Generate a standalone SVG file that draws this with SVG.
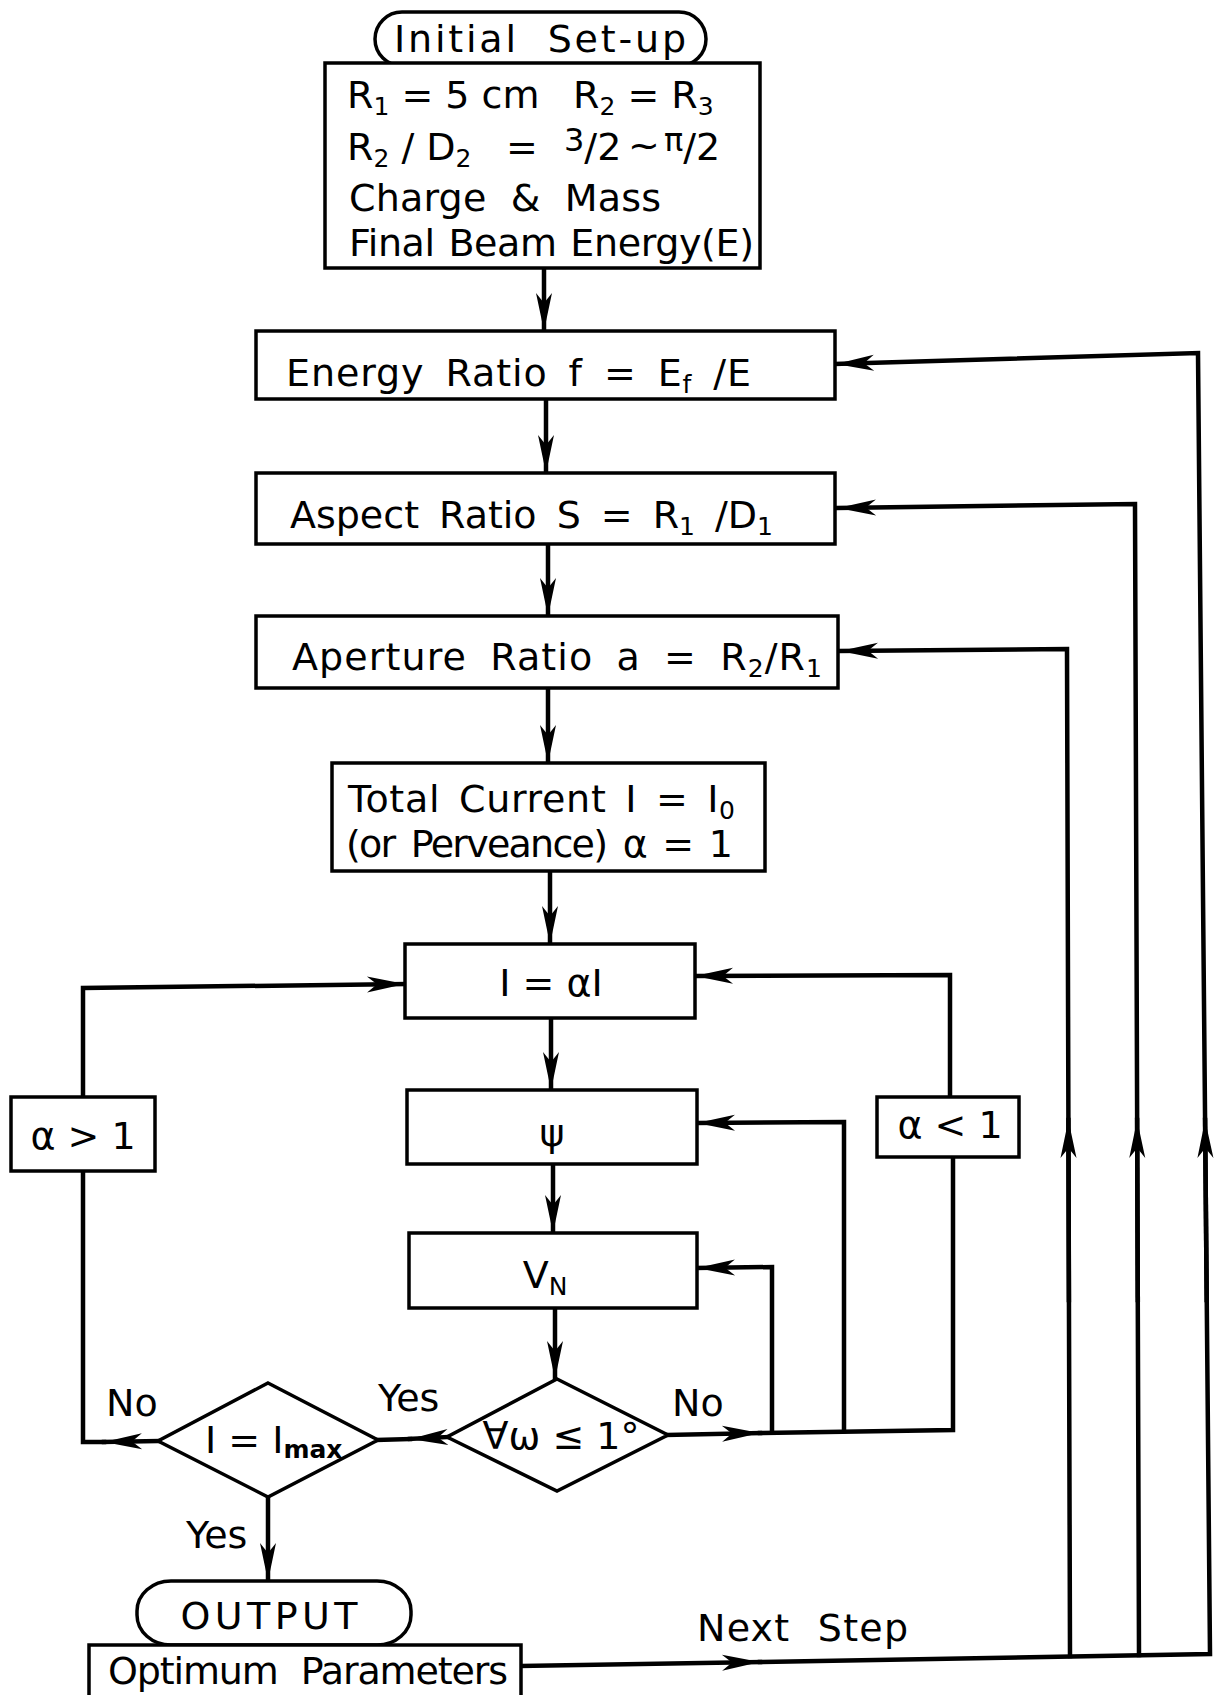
<svg xmlns="http://www.w3.org/2000/svg" width="1215" height="1695" viewBox="0 0 1215 1695">
<style>
.n{fill:#fff;stroke:#000;stroke-width:3.5}
.t{font-family:"DejaVu Sans","Liberation Sans",Arial,sans-serif;font-size:38px;fill:#000}
.s{font-size:25px}
.c{fill:none;stroke:#000;stroke-width:4.5;stroke-linejoin:miter;stroke-linecap:square}
</style>
<defs>
<marker id="a" markerUnits="userSpaceOnUse" viewBox="-40 -10 42 20" markerWidth="42" markerHeight="20" refX="0" refY="0" orient="auto">
<path d="M0,0 L-38,-8 L-28,0 L-38,8 Z" fill="#000"/>
</marker>
</defs>
<rect width="1215" height="1695" fill="#fff"/>

<g id="connectors">
<path class="c" d="M544,268 L544,331" marker-end="url(#a)"/>
<path class="c" d="M546,399 L546,473" marker-end="url(#a)"/>
<path class="c" d="M548,544 L548,616" marker-end="url(#a)"/>
<path class="c" d="M548,688 L548,763" marker-end="url(#a)"/>
<path class="c" d="M550,871 L550,944" marker-end="url(#a)"/>
<path class="c" d="M551,1018 L551,1090" marker-end="url(#a)"/>
<path class="c" d="M553,1164 L553,1233" marker-end="url(#a)"/>
<path class="c" d="M555,1308 L555,1379" marker-end="url(#a)"/>
<path class="c" d="M83,1097 L83,988 L405,984" marker-end="url(#a)"/>
<path class="c" d="M950,1097 L950,975 L695,976" marker-end="url(#a)"/>
<path class="c" d="M953,1157 L953,1430 L760,1433"/>
<path class="c" d="M667,1435 L760,1433" marker-end="url(#a)"/>
<path class="c" d="M772,1432 L772,1267 L697,1268" marker-end="url(#a)"/>
<path class="c" d="M844,1431 L844,1122 L697,1123" marker-end="url(#a)"/>
<path class="c" d="M447,1437 L410,1439" marker-end="url(#a)"/>
<path class="c" d="M410,1439 L378,1440"/>
<path class="c" d="M158,1441 L104,1442" marker-end="url(#a)"/>
<path class="c" d="M104,1442 L83,1442 L83,1171"/>
<path class="c" d="M268,1497 L268,1581" marker-end="url(#a)"/>
<path class="c" d="M521,1666 L760,1662" marker-end="url(#a)"/>
<path class="c" d="M760,1662 L1210,1654 L1198,353 L836,364" marker-end="url(#a)"/>
<path class="c" d="M1139,1655 L1135,504 L838,508" marker-end="url(#a)"/>
<path class="c" d="M1070,1656 L1067,649 L840,651" marker-end="url(#a)"/>
<path class="c" d="M1068.9,1300 L1068.4,1120" marker-end="url(#a)"/>
<path class="c" d="M1137.8,1300 L1137.1,1120" marker-end="url(#a)"/>
<path class="c" d="M1206.7,1300 L1205.1,1120" marker-end="url(#a)"/>
</g>

<g id="start">
<rect class="n" x="375" y="12" width="331" height="54" rx="27" ry="27"/>
<text class="t" x="540" y="52" text-anchor="middle" font-size="36" word-spacing="14" textLength="292" lengthAdjust="spacing">Initial Set-up</text>
</g>

<g id="setup">
<rect class="n" x="325" y="63" width="435" height="205"/>
<text class="t" x="347" y="108">R<tspan class="s" dy="7">1</tspan><tspan dy="-7"> = 5 cm</tspan></text>
<text class="t" x="573" y="108">R<tspan class="s" dy="7">2</tspan><tspan dy="-7"> = R</tspan><tspan class="s" dy="7">3</tspan></text>
<text class="t" x="347" y="160">R<tspan class="s" dy="7">2</tspan><tspan dy="-7"> / D</tspan><tspan class="s" dy="7">2</tspan></text>
<text class="t" x="506" y="160">=</text>
<text class="t" x="564" y="160"><tspan font-size="32" dy="-9">3</tspan><tspan dy="9">/2</tspan></text>
<text class="t" x="628" y="158">~</text>
<text class="t" x="664" y="160"><tspan font-size="32" dy="-9">π</tspan><tspan dy="9">/2</tspan></text>
<text class="t" x="349" y="211" word-spacing="12" textLength="312" lengthAdjust="spacing">Charge &amp; Mass</text>
<text class="t" x="349" y="256" word-spacing="2" textLength="405" lengthAdjust="spacing">Final Beam Energy(E)</text>
</g>

<g id="energy">
<rect class="n" x="256" y="331" width="579" height="68"/>
<text class="t" x="286" y="386" word-spacing="8" textLength="465" lengthAdjust="spacing">Energy Ratio f = E<tspan class="s" dy="7">f</tspan><tspan dy="-7"> /E</tspan></text>
</g>

<g id="aspect">
<rect class="n" x="256" y="473" width="579" height="71"/>
<text class="t" x="290" y="528" word-spacing="8" textLength="483" lengthAdjust="spacing">Aspect Ratio S = R<tspan class="s" dy="7">1</tspan><tspan dy="-7"> /D</tspan><tspan class="s" dy="7">1</tspan></text>
</g>

<g id="aperture">
<rect class="n" x="256" y="616" width="582" height="72"/>
<text class="t" x="292" y="670" word-spacing="10" textLength="530" lengthAdjust="spacing">Aperture Ratio a = R<tspan class="s" dy="7">2</tspan><tspan dy="-7">/R</tspan><tspan class="s" dy="7">1</tspan></text>
</g>

<g id="total">
<rect class="n" x="332" y="763" width="433" height="108"/>
<text class="t" x="348" y="812" font-size="37" word-spacing="6" textLength="387" lengthAdjust="spacing">Total Current I = I<tspan class="s" dy="7">0</tspan></text>
<text class="t" x="346" y="857" font-size="37" word-spacing="6" textLength="387" lengthAdjust="spacing">(or Perveance) α = 1</text>
</g>

<g id="scale">
<rect class="n" x="405" y="944" width="290" height="74"/>
<text class="t" x="551" y="996" font-size="40" text-anchor="middle">I = αI</text>
</g>

<g id="psi">
<rect class="n" x="407" y="1090" width="290" height="74"/>
<text class="t" x="552" y="1146" font-size="52" text-anchor="middle">ψ</text>
</g>

<g id="vn">
<rect class="n" x="409" y="1233" width="288" height="75"/>
<text class="t" x="545" y="1288" font-size="43" text-anchor="middle">V<tspan class="s" dy="7">N</tspan></text>
</g>

<g id="agt1">
<rect class="n" x="11" y="1097" width="144" height="74"/>
<text class="t" x="83" y="1149" font-size="40" text-anchor="middle">α &gt; 1</text>
</g>

<g id="alt1">
<rect class="n" x="877" y="1097" width="142" height="60"/>
<text class="t" x="950" y="1138" font-size="40" text-anchor="middle">α &lt; 1</text>
</g>

<g id="check">
<polygon class="n" points="557,1379 668,1435 557,1491 447,1437"/>
<text class="t" x="561" y="1449" font-size="37" text-anchor="middle">∀ω ≤ 1°</text>
</g>

<g id="imax">
<polygon class="n" points="268,1383 378,1440 268,1497 158,1441"/>
<text class="t" x="205" y="1453" font-size="37">I = I<tspan font-size="25" font-weight="bold" dy="5">max</tspan></text>
</g>

<g id="labels">
<text class="t" x="106" y="1416" font-size="35">No</text>
<text class="t" x="378" y="1411" font-size="35">Yes</text>
<text class="t" x="672" y="1416" font-size="35">No</text>
<text class="t" x="186" y="1548" font-size="35">Yes</text>
<text class="t" x="697" y="1641" font-size="36" word-spacing="14" textLength="211" lengthAdjust="spacing">Next Step</text>
</g>

<g id="output">
<rect class="n" x="137" y="1581" width="274" height="64" rx="34" ry="30"/>
<text class="t" x="269" y="1629" font-size="38" text-anchor="middle" textLength="177" lengthAdjust="spacing">OUTPUT</text>
</g>

<g id="optimum">
<rect class="n" x="89" y="1645" width="432" height="70"/>
<text class="t" x="108" y="1684" font-size="37" word-spacing="12" textLength="400" lengthAdjust="spacing">Optimum Parameters</text>
</g>
</svg>
